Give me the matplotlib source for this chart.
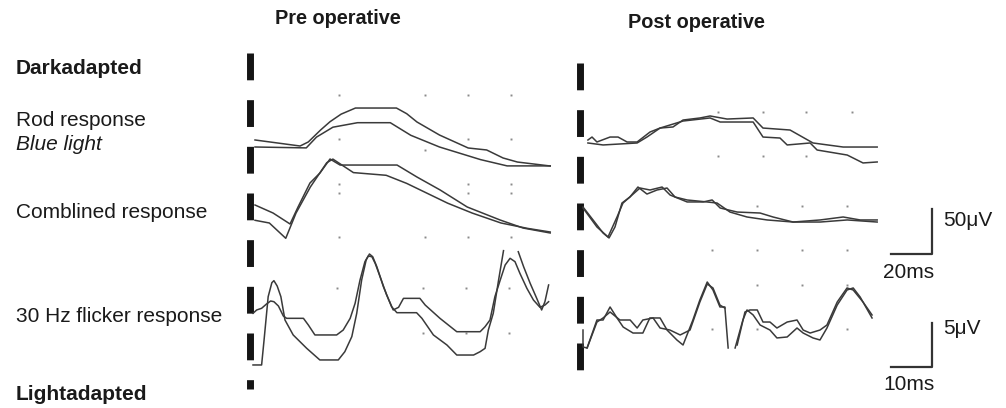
import numpy as np
import matplotlib.pyplot as plt

plt.rcParams['font.family'] = ['Liberation Sans', 'DejaVu Sans']

W, H = 1006, 408
nan = np.nan

# recording scales (pixels per unit)
DARK_MS_PER_PX = 20 / 41
DARK_UV_PER_PX = 50 / 45
FLK_MS_PER_PX = 10 / 41
FLK_UV_PER_PX = 5 / 44

# ---- pre operative, dark adapted (ms, uV) ----
pre_rod_t_a = [0, 22, 26, 32, 36.6, 42, 49, 69, 74, 79, 90, 104, 113, 121, 128, 144]
pre_rod_v_a = [7.8, 1.1, 5.6, 18.9, 28.1, 36.5, 43.3, 43.3, 37.0, 27.8, 13.3, -1.1, -3.3, -12.2, -16.7, -21.1]
pre_rod_t_b = [0, 25, 30, 38, 50, 66, 76, 90, 100, 110, 123, 144]
pre_rod_v_b = [0, -1, 11, 22, 27, 27, 13, 0, -7, -14, -21, -21]

pre_comb_t_a = [0, 8.8, 17.1, 21, 26.8, 31.7, 36.6, 41.5, 69.3, 79, 90.3, 103.5, 119.6, 130.8, 144]
pre_comb_v_a = [0, -8.9, -21.1, -2.2, 24.4, 35.6, 51.1, 44.4, 44.4, 31.1, 16.7, -2.2, -16.7, -25.6, -31.1]
pre_comb_t_b = [0, 7, 15, 20, 27, 35, 38, 48, 64, 74, 84, 94, 106, 120, 133, 144]
pre_comb_v_b = [-17, -20, -37, -9, 20, 47, 51, 36, 33, 24, 13, 2, -9, -20, -26, -30]

# ---- pre operative, 30 Hz flicker (ms, uV) ----
pre_flk_t_a = [0, 0.9, 2.1, 3.3, 4.3, 5.1, 6.2, 7.4, 8.2, 12.3, 13.5, 15.1, 20.4, 22.0, 23.7,
               24.9, 26.1, 27.3, 28.1, 29.0, 29.8, 31.0, 32.6, 34.2, 35.5, 36.7, 40.7, 42.0,
               45.6, 49.7, 55.4, 56.6, 57.8, 59.0, 60.3, 61.5, 62.7, 63.9, 65.1, 66.8, 68.4,
               70.0, 71.2, 72.1]
pre_flk_v_a = [0.76, 1.14, 1.33, 1.82, 2.16, 2.08, 1.59, 0.45, 0.19, 0.19, -0.57, -1.70, -1.70,
               -1.14, 0.19, 1.89, 4.54, 6.63, 7.27, 7.19, 6.44, 4.92, 2.84, 1.14, 1.44, 2.46,
               2.46, 1.70, 0.19, -1.33, -1.33, -0.76, 0, 2.65, 4.54, 6.25, 7.01, 6.63, 5.30,
               3.60, 2.27, 1.44, 1.70, 2.08]
pre_flk_t_b = [0, 2.1, 2.7, 3.7, 4.6, 5.1, 5.9, 6.8, 7.8, 9.8, 13.1, 16.3, 20.8, 22.4, 24.1,
               25.3, 26.5, 27.6, 28.4, 29.2, 30.2, 31.8, 33.8, 35.1, 39.9, 41.2, 44.0, 47.3,
               49.7, 53.8, 55.4, 56.6, 57.4, 58.6, 59.9, 61.1, nan, 64.7, 66.0, 67.6, 69.2,
               70.4, 71.2, 72.1]
pre_flk_v_b = [-5.11, -5.11, -2.27, 2.65, 4.24, 4.47, 3.86, 2.65, 0, -1.70, -3.22, -4.54,
               -4.54, -3.60, -1.89, 0.76, 4.54, 6.82, 7.50, 7.19, 6.06, 3.79, 1.51, 0.83, 0.83,
               0.19, -1.70, -2.84, -3.98, -3.98, -3.60, -3.22, -1.14, 0.76, 4.54, 7.88, nan,
               7.76, 6.06, 4.17, 2.46, 1.14, 2.08, 3.98]

# ---- post operative, dark adapted (ms, uV) ----
post_rod_t_a = [2.4, 4.4, 6.8, 13.2, 17.1, 21.5, 26.4, 32.7, 37.6, 43.9, 48.8, 57.1, 62.0, 70.3,
                83.0, 87.8, 101.0, 112.2, 126.9, 143.5]
post_rod_v_a = [1.1, 4.4, -1.1, 4.4, 4.4, -1.1, -1.1, 10.0, 14.4, 15.6, 23.3, 25.6, 27.8, 24.4,
                25.6, 14.4, 12.2, -2.2, -6.7, -6.7]
post_rod_t_b = [2.4, 9.8, 26.4, 31.2, 37.6, 48.8, 62.0, 66.9, 83.0, 87.8, 96.1, 99.6, 110.8,
                114.2, 128.9, 136.6, 143.5]
post_rod_v_b = [-2.2, -4.4, -2.2, 4.4, 14.4, 22.2, 25.6, 21.1, 21.1, 4.4, 3.3, -4.4, -2.2,
                -10.0, -15.6, -24.4, -23.3]

post_comb_t_a = [0, 4.9, 9.8, 12.7, 15.6, 19.0, 22.9, 26.8, 31.2, 36.1, 41.0, 44.9, 50.8, 60.5,
                 65.4, 71.7, 80.0, 89.8, 102.5, 115.7, 128.9, 143.5]
post_comb_v_a = [0, -14.4, -28.9, -34.4, -22.2, 4.4, 11.1, 22.2, 14.4, 18.9, 21.1, 11.1, 7.8, 5.6,
                 4.4, -5.6, -11.1, -14.4, -16.7, -16.7, -14.4, -16.7]
post_comb_t_b = [0, 6.8, 12.2, 16.6, 19.5, 27.8, 32.7, 38.6, 42.5, 50.8, 58.6, 63.0, 66.9, 75.2,
                 86.4, 92.7, 102.5, 115.7, 126.9, 135.2, 143.5]
post_comb_v_b = [-1.1, -22.2, -33.3, -11.1, 4.4, 21.1, 18.9, 22.2, 13.3, 5.6, 5.6, 7.8, -1.1, -5.6,
                 -6.7, -11.1, -16.7, -14.4, -11.1, -14.4, -14.4]

# ---- post operative, 30 Hz flicker (ms, uV) ----
post_flk_t_a = [0, 0, 1.0, 3.4, 4.9, 6.6, 8.3, 9.8, 12.2, 14.6, 16.3, 18.8, 20.5, 22.9, 24.4,
                26.8, 28.5, 30.3, 31.7, 33.4, 34.6, 35.4, nan, 37.1, 39.0, 40.0, 41.5, 43.2, 45.6,
                47.3, 49.8, 52.2, 53.7, 56.1, 57.8, 59.5, 62.0, 64.4, 65.9, 67.6, 70.5]
post_flk_v_a = [-1.14, -3.07, -3.18, 0, 0, 1.48, 0.23, -0.80, -1.48, -1.48, 0.23, 0.23, -1.14,
                -2.27, -2.84, 0, 2.27, 4.32, 3.41, 1.48, 1.48, -3.18, nan, -3.18, 0, 1.14, 0.57,
                -0.57, -1.14, -2.04, -1.93, -0.91, -1.48, -2.04, -2.27, -0.91, 1.70, 3.41, 3.64,
                2.61, 0.23]
post_flk_t_b = [1.0, 3.4, 4.9, 6.6, 9.0, 11.5, 13.2, 14.6, 17.1, 18.8, 21.2, 23.7, 26.1, 28.5,
                30.3, 31.7, 33.4, 34.6, nan, 37.6, 39.5, 40.7, 42.5, 43.9, 45.6, 47.3, 49.8, 52.2,
                53.7, 55.4, 57.8, 59.5, 62.0, 64.4, 65.9, 68.3, 70.5]
post_flk_v_b = [-3.18, -0.23, 0.23, 0.91, 0, 0, -0.91, 0, 0.23, -0.91, -1.14, -1.70, -1.14, 2.04,
                4.09, 3.64, 1.70, 1.36, nan, -2.84, 0.91, 1.14, 1.14, -0.23, -0.23, -0.91, -0.23,
                0, -1.14, -1.48, -1.14, -0.57, 2.04, 3.64, 3.41, 2.04, 0.57]

# faint grid dots of the recorder (uV level, ms positions), in the rod-row units
pre_dots = [(57.8, [41, 83, 104, 125]), (8.9, [41, 104, 125]), (-3.3, [83]),
            (-41.1, [41, 104, 125]), (-51.1, [41, 104, 125]), (-100, [41, 83, 104, 125]),
            (-156.7, [40, 82, 103, 124]), (-206.7, [82, 103, 124])]
post_dots = [(32.2, [66, 88, 109, 131]), (-16.7, [66, 88, 109]), (-72.2, [85, 107, 129]),
             (-121.1, [63, 85, 107, 129]), (-160, [85, 107, 129]), (-208.9, [63, 85, 129])]

row_labels = ['Rod response', 'Comblined response', '30 Hz flicker response']

# ---- layout (pixel origin of each row) ----
LINE = '#3a3a3a'
fig = plt.figure(figsize=(W / 100, H / 100), dpi=100)


def row_axes(x0, y0, ms_px, uv_px):
    ax = fig.add_axes([0, 0, 1, 1])
    ax.set_xlim(-x0 * ms_px, (W - x0) * ms_px)
    ax.set_ylim((y0 - H) * uv_px, y0 * uv_px)
    ax.axis('off')
    ax.patch.set_alpha(0)
    return ax


pre_rod = row_axes(255, 147, DARK_MS_PER_PX, DARK_UV_PER_PX)
pre_comb = row_axes(255, 205, DARK_MS_PER_PX, DARK_UV_PER_PX)
pre_flk = row_axes(253, 320, FLK_MS_PER_PX, FLK_UV_PER_PX)
post_rod = row_axes(583, 141, DARK_MS_PER_PX, DARK_UV_PER_PX)
post_comb = row_axes(583, 207, DARK_MS_PER_PX, DARK_UV_PER_PX)
post_flk = row_axes(583, 320, FLK_MS_PER_PX, FLK_UV_PER_PX)

for ax, t, v in [(pre_rod, pre_rod_t_a, pre_rod_v_a), (pre_rod, pre_rod_t_b, pre_rod_v_b),
                 (pre_comb, pre_comb_t_a, pre_comb_v_a), (pre_comb, pre_comb_t_b, pre_comb_v_b),
                 (pre_flk, pre_flk_t_a, pre_flk_v_a), (pre_flk, pre_flk_t_b, pre_flk_v_b),
                 (post_rod, post_rod_t_a, post_rod_v_a), (post_rod, post_rod_t_b, post_rod_v_b),
                 (post_comb, post_comb_t_a, post_comb_v_a), (post_comb, post_comb_t_b, post_comb_v_b),
                 (post_flk, post_flk_t_a, post_flk_v_a), (post_flk, post_flk_t_b, post_flk_v_b)]:
    ax.plot(t, v, color=LINE, lw=1.1, solid_joinstyle='round')

# dashed marker columns on the left of each panel
pre_rod.plot([-2.4, -2.4], [104.4, -268.9], color='#151515', lw=5.0,
             linestyle=(0, (3.86, 2.86)), dash_capstyle='butt')
post_rod.plot([-1.5, -1.5], [86.7, -256.7], color='#151515', lw=5.0,
              linestyle=(0, (3.86, 2.86)), dash_capstyle='butt')

for ax, dots in [(pre_rod, pre_dots), (post_rod, post_dots)]:
    for lvl, ts in dots:
        ax.plot(ts, [lvl] * len(ts), ls='none', marker='s', ms=1.4, color='#8a8a8a', mew=0)

# calibration bars
post_comb.plot([150.3, 170.3, 170.3], [-52.2, -52.2, -2.2], color='#333333', lw=1.6)
post_flk.plot([75.2, 85.2, 85.2], [-5.3, -5.3, -0.3], color='#333333', lw=1.6)


def px_text(x, y, s, **kw):
    fig.text(x / W, 1 - y / H, s, va='center', ha='left', color='#1a1a1a', **kw)


px_text(275, 19, 'Pre operative', fontsize=14.3, fontweight='bold')
px_text(628, 23, 'Post operative', fontsize=14.3, fontweight='bold')
px_text(16, 69, 'Darkadapted', fontsize=15, fontweight='bold')
px_text(16, 120, row_labels[0], fontsize=15)
px_text(16, 145, 'Blue light', fontsize=15, style='italic')
px_text(16, 213, row_labels[1], fontsize=15)
px_text(16, 317, row_labels[2], fontsize=15)
px_text(16, 394, 'Lightadapted', fontsize=15, fontweight='bold')

px_text(943, 221, '50\u03bcV', fontsize=15)
px_text(883, 272, '20ms', fontsize=15)
px_text(943, 328, '5\u03bcV', fontsize=15)
px_text(883, 384, '10ms', fontsize=15)

fig.savefig('out.png', dpi=100, facecolor='white')
